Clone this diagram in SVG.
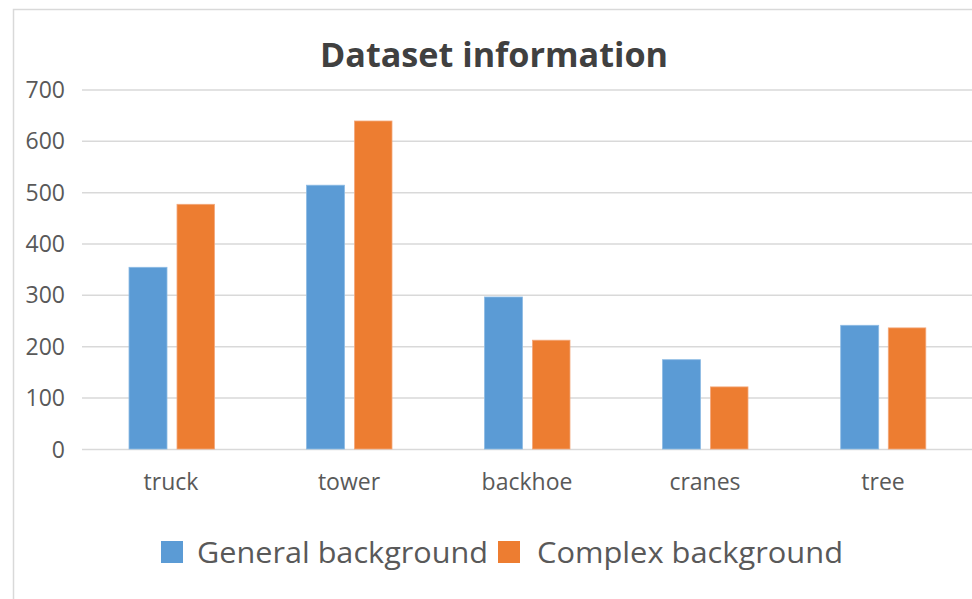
<svg xmlns="http://www.w3.org/2000/svg" width="972" height="599" viewBox="0 0 972 599">
<style>
.grid{stroke:#D9D9D9;stroke-width:1.5;fill:none}
.ax{font-family:"Open Sans","Liberation Sans",sans-serif;font-size:23px;fill:#595959}
.yl{text-anchor:end}
.cat{text-anchor:middle}
.title{font-family:"Open Sans","Liberation Sans",sans-serif;font-size:34px;font-weight:bold;fill:#404040;text-anchor:middle}
.leg{font-family:"Open Sans","Liberation Sans",sans-serif;font-size:29px;fill:#595959}
.gen{fill:#5B9BD5;stroke:#8DBBE4;stroke-width:0.8}
.cpx{fill:#ED7D31;stroke:#F3A77A;stroke-width:0.8}
</style>
<rect x="0" y="0" width="972" height="599" fill="#FFFFFF"/>
<path d="M13.5,599 V9.5 H972" fill="none" stroke="#D9D9D9" stroke-width="1.5"/>
<text class="title" x="494" y="67" textLength="348" lengthAdjust="spacingAndGlyphs">Dataset information</text>
<g id="grid">
<line class="grid" x1="82" y1="90" x2="972" y2="90"/>
<line class="grid" x1="82" y1="141.3" x2="972" y2="141.3"/>
<line class="grid" x1="82" y1="192.7" x2="972" y2="192.7"/>
<line class="grid" x1="82" y1="244" x2="972" y2="244"/>
<line class="grid" x1="82" y1="295.3" x2="972" y2="295.3"/>
<line class="grid" x1="82" y1="346.7" x2="972" y2="346.7"/>
<line class="grid" x1="82" y1="398" x2="972" y2="398"/>
<line class="grid" x1="82" y1="449.5" x2="972" y2="449.5"/>
</g>
<g id="yaxis" class="ax yl">
<text x="65" y="98">700</text>
<text x="65" y="149.3">600</text>
<text x="65" y="200.7">500</text>
<text x="65" y="252">400</text>
<text x="65" y="303.3">300</text>
<text x="65" y="354.7">200</text>
<text x="65" y="406">100</text>
<text x="65" y="457.5">0</text>
</g>
<g id="truck">
<rect class="gen" x="129" y="267.3" width="38" height="181.7"/>
<rect class="cpx" x="177" y="204.3" width="37.5" height="244.7"/>
<text class="ax cat" x="171" y="490">truck</text>
</g>
<g id="tower">
<rect class="gen" x="306.5" y="185.2" width="38" height="263.8"/>
<rect class="cpx" x="354.5" y="121" width="37.5" height="328"/>
<text class="ax cat" x="349" y="490">tower</text>
</g>
<g id="backhoe">
<rect class="gen" x="484.5" y="297" width="38" height="152"/>
<rect class="cpx" x="532.5" y="340.2" width="37.5" height="108.8"/>
<text class="ax cat" x="527" y="490">backhoe</text>
</g>
<g id="cranes">
<rect class="gen" x="662.5" y="359.7" width="38" height="89.3"/>
<rect class="cpx" x="710.5" y="386.9" width="37.5" height="62.1"/>
<text class="ax cat" x="705" y="490">cranes</text>
</g>
<g id="tree">
<rect class="gen" x="840.7" y="325.3" width="38" height="123.7"/>
<rect class="cpx" x="888.3" y="327.9" width="37.5" height="121.1"/>
<text class="ax cat" x="883" y="490">tree</text>
</g>
<g id="legend">
<rect x="161" y="541" width="22" height="22" fill="#5B9BD5"/>
<text class="leg" x="197" y="563" textLength="291" lengthAdjust="spacingAndGlyphs">General background</text>
<rect x="498" y="541" width="22" height="22" fill="#ED7D31"/>
<text class="leg" x="537" y="563" textLength="306" lengthAdjust="spacingAndGlyphs">Complex background</text>
</g>
</svg>
